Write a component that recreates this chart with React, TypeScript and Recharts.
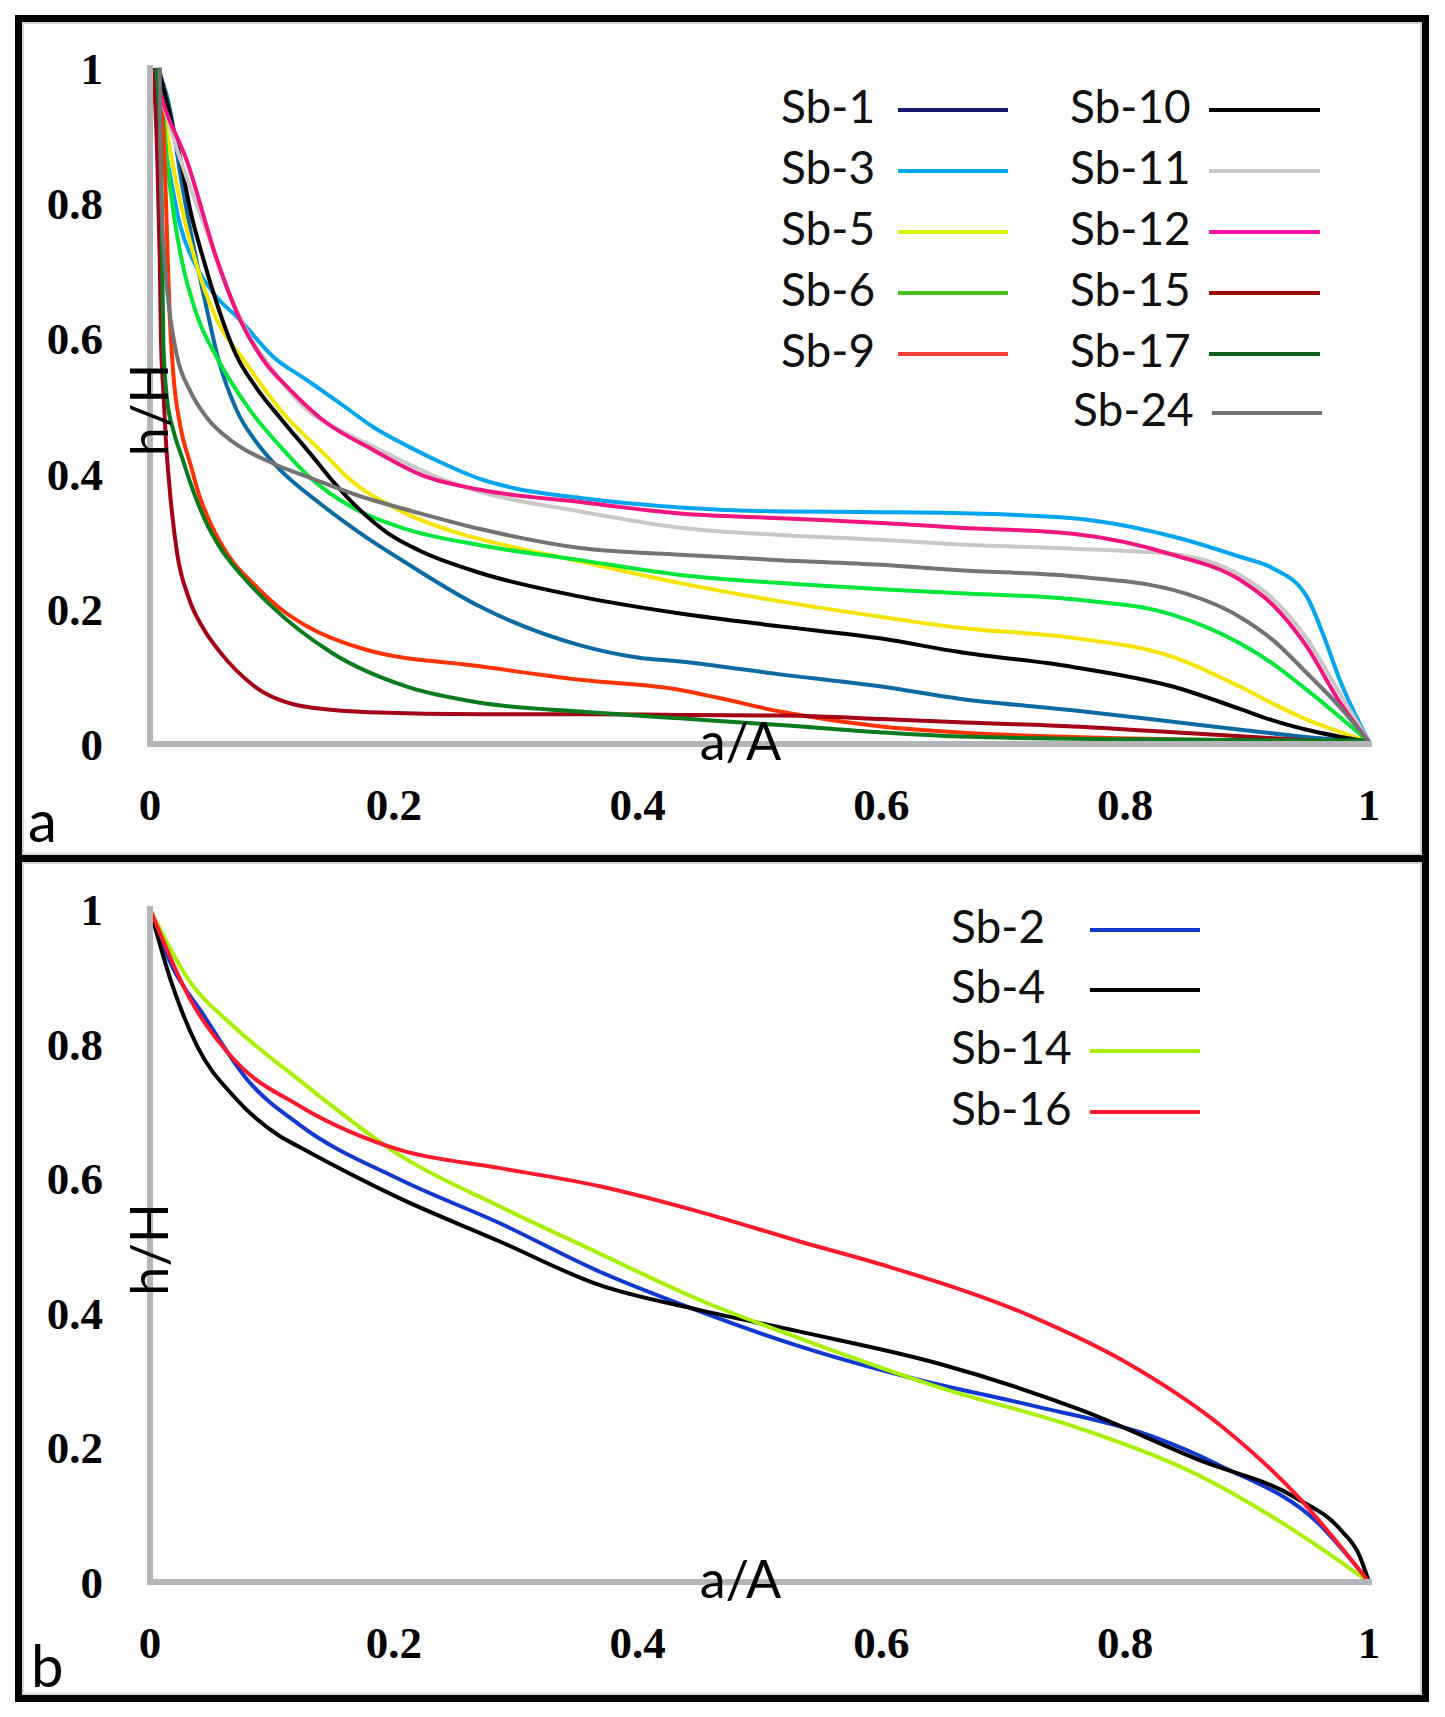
import React from "react"
import { LineChart, Line, XAxis, YAxis, Legend } from "recharts"

// [a/A, h/H] pairs
const sb1 = [[0.006, 1], [0.019, 0.913], [0.023, 0.864], [0.03, 0.79], [0.038, 0.716], [0.047, 0.64], [0.056, 0.57], [0.071, 0.494], [0.09, 0.44], [0.107, 0.405], [0.14, 0.355], [0.17, 0.315], [0.21, 0.268], [0.271, 0.203], [0.353, 0.146], [0.4, 0.128], [0.435, 0.122], [0.517, 0.103], [0.6, 0.085], [0.664, 0.067], [0.757, 0.05], [0.839, 0.033], [0.9, 0.02], [0.95, 0.01], [1, 0.003]]
const sb3 = [[0, 1], [0.006, 0.93], [0.014, 0.864], [0.025, 0.765], [0.038, 0.706], [0.052, 0.667], [0.074, 0.627], [0.101, 0.573], [0.129, 0.538], [0.156, 0.504], [0.183, 0.469], [0.211, 0.441], [0.238, 0.417], [0.271, 0.392], [0.3, 0.378], [0.353, 0.364], [0.435, 0.35], [0.517, 0.344], [0.6, 0.343], [0.648, 0.342], [0.757, 0.334], [0.839, 0.307], [0.894, 0.277], [0.921, 0.26], [0.949, 0.218], [0.963, 0.159], [0.976, 0.095], [1, 0.003]]
const sb5 = [[0.008, 1], [0.012, 0.93], [0.018, 0.864], [0.037, 0.716], [0.055, 0.627], [0.077, 0.568], [0.107, 0.494], [0.148, 0.42], [0.161, 0.396], [0.2, 0.35], [0.253, 0.312], [0.271, 0.303], [0.353, 0.27], [0.435, 0.238], [0.517, 0.211], [0.6, 0.188], [0.664, 0.172], [0.757, 0.157], [0.839, 0.129], [0.894, 0.085], [0.921, 0.06], [0.949, 0.036], [0.976, 0.018], [1, 0.003]]
const sb6 = [[0.008, 1], [0.011, 0.93], [0.014, 0.864], [0.019, 0.79], [0.026, 0.716], [0.038, 0.637], [0.056, 0.568], [0.082, 0.494], [0.112, 0.43], [0.129, 0.398], [0.17, 0.346], [0.21, 0.318], [0.271, 0.294], [0.353, 0.272], [0.435, 0.25], [0.517, 0.238], [0.6, 0.229], [0.664, 0.223], [0.757, 0.214], [0.839, 0.191], [0.894, 0.149], [0.921, 0.119], [0.949, 0.08], [0.976, 0.04], [1, 0.003]]
const sb9 = [[0.006, 1], [0.012, 0.864], [0.014, 0.75], [0.016, 0.64], [0.019, 0.55], [0.025, 0.469], [0.033, 0.415], [0.04, 0.37], [0.05, 0.325], [0.065, 0.277], [0.086, 0.235], [0.11, 0.196], [0.128, 0.175], [0.178, 0.139], [0.271, 0.115], [0.353, 0.095], [0.435, 0.08], [0.467, 0.068], [0.517, 0.048], [0.557, 0.036], [0.6, 0.026], [0.664, 0.017], [0.784, 0.009], [0.9, 0.005], [1, 0]]
const sb10 = [[0.007, 1], [0.016, 0.933], [0.025, 0.864], [0.033, 0.79], [0.044, 0.716], [0.057, 0.64], [0.07, 0.578], [0.088, 0.525], [0.107, 0.482], [0.134, 0.424], [0.147, 0.395], [0.17, 0.35], [0.195, 0.312], [0.22, 0.287], [0.271, 0.253], [0.353, 0.218], [0.435, 0.193], [0.517, 0.174], [0.6, 0.156], [0.664, 0.136], [0.757, 0.114], [0.839, 0.085], [0.894, 0.052], [0.921, 0.035], [0.949, 0.021], [1, 0.003]]
const sb11 = [[0, 1], [0.01, 0.95], [0.025, 0.864], [0.047, 0.756], [0.063, 0.676], [0.082, 0.602], [0.101, 0.553], [0.129, 0.494], [0.156, 0.464], [0.183, 0.44], [0.238, 0.393], [0.271, 0.373], [0.353, 0.344], [0.435, 0.32], [0.517, 0.309], [0.6, 0.302], [0.664, 0.295], [0.757, 0.289], [0.839, 0.281], [0.894, 0.25], [0.921, 0.215], [0.949, 0.156], [0.976, 0.075], [1, 0.003]]
const sb12 = [[0.003, 1], [0.011, 0.948], [0.03, 0.864], [0.055, 0.716], [0.074, 0.627], [0.093, 0.568], [0.115, 0.524], [0.142, 0.479], [0.183, 0.435], [0.224, 0.397], [0.271, 0.376], [0.353, 0.358], [0.435, 0.341], [0.517, 0.334], [0.6, 0.327], [0.664, 0.32], [0.757, 0.311], [0.839, 0.28], [0.894, 0.243], [0.921, 0.206], [0.949, 0.144], [0.976, 0.062], [1, 0.003]]
const sb15 = [[0.003, 1], [0.006, 0.864], [0.008, 0.716], [0.009, 0.6], [0.011, 0.52], [0.013, 0.45], [0.016, 0.38], [0.022, 0.285], [0.032, 0.215], [0.044, 0.17], [0.057, 0.137], [0.086, 0.085], [0.128, 0.055], [0.18, 0.047], [0.271, 0.044], [0.353, 0.044], [0.435, 0.043], [0.517, 0.042], [0.6, 0.037], [0.664, 0.032], [0.757, 0.026], [0.86, 0.015], [1, 0]]
const sb17 = [[0.005, 1], [0.009, 0.864], [0.01, 0.716], [0.011, 0.59], [0.014, 0.51], [0.019, 0.465], [0.027, 0.42], [0.032, 0.392], [0.045, 0.332], [0.057, 0.292], [0.075, 0.25], [0.099, 0.205], [0.149, 0.135], [0.212, 0.084], [0.271, 0.061], [0.353, 0.048], [0.435, 0.038], [0.517, 0.028], [0.6, 0.017], [0.664, 0.011], [0.8, 0.007], [1, 0.005]]
const sb24 = [[0.008, 1], [0.0085, 0.9], [0.0095, 0.8], [0.012, 0.716], [0.016, 0.64], [0.022, 0.575], [0.033, 0.522], [0.047, 0.482], [0.068, 0.447], [0.101, 0.415], [0.134, 0.392], [0.17, 0.368], [0.22, 0.342], [0.271, 0.318], [0.353, 0.29], [0.435, 0.28], [0.517, 0.272], [0.6, 0.265], [0.664, 0.257], [0.757, 0.248], [0.839, 0.228], [0.894, 0.188], [0.921, 0.154], [0.949, 0.105], [0.976, 0.055], [1, 0.003]]

const sb2 = [[0, 1], [0.017, 0.919], [0.043, 0.845], [0.08, 0.746], [0.123, 0.679], [0.205, 0.598], [0.287, 0.533], [0.369, 0.461], [0.451, 0.402], [0.533, 0.35], [0.627, 0.302], [0.724, 0.262], [0.821, 0.217], [0.88, 0.171], [0.958, 0.088], [1, 0]]
const sb4 = [[0, 1], [0.017, 0.894], [0.039, 0.795], [0.069, 0.721], [0.106, 0.663], [0.123, 0.646], [0.205, 0.57], [0.287, 0.506], [0.369, 0.441], [0.451, 0.404], [0.533, 0.372], [0.646, 0.325], [0.763, 0.256], [0.861, 0.181], [0.939, 0.126], [0.977, 0.077], [0.992, 0.04], [1, 0]]
const sb14 = [[0, 1], [0.032, 0.894], [0.069, 0.825], [0.123, 0.745], [0.205, 0.634], [0.287, 0.558], [0.369, 0.488], [0.451, 0.419], [0.533, 0.362], [0.646, 0.29], [0.763, 0.228], [0.861, 0.158], [0.939, 0.076], [1, 0]]
const sb16 = [[0, 1], [0.032, 0.869], [0.069, 0.776], [0.123, 0.707], [0.205, 0.642], [0.287, 0.615], [0.369, 0.588], [0.451, 0.55], [0.533, 0.506], [0.607, 0.468], [0.724, 0.394], [0.802, 0.325], [0.88, 0.23], [0.939, 0.132], [1, 0]]

const tickValues = [0, 0.2, 0.4, 0.6, 0.8, 1]

const topNames = ["Sb-1", "Sb-3", "Sb-5", "Sb-6", "Sb-9", "Sb-10", "Sb-11", "Sb-12", "Sb-15", "Sb-17", "Sb-24"]
const topSeries = [sb1, sb3, sb5, sb6, sb9, sb10, sb11, sb12, sb15, sb17, sb24]
const topStroke = ["#0b6aa2", "#00a4ef", "#f5e400", "#00e63b", "#ff3300", "#000000", "#cdc6c6", "#f0157f", "#a30018", "#0a7a1e", "#737373"]
const topLegend = ["#121a70", "#00a4ef", "#d6f200", "#44c41b", "#ff3d33", "#000000", "#cdc6c6", "#ff14a0", "#9b0d0d", "#0d5e1a", "#737373"]

const bottomNames = ["Sb-2", "Sb-4", "Sb-14", "Sb-16"]
const bottomSeries = [sb2, sb4, sb14, sb16]
const bottomStroke = ["#1238d0", "#000000", "#a6f000", "#ff1a2e"]

const toPts = (arr: number[][]) => arr.map(([a, h]) => ({ a, h }))

const SANS = "Lato, 'Open Sans', sans-serif"
const SERIF = "'Liberation Serif', 'Times New Roman', serif"
const AXIS_GREY = "#b4b5b8"

const tickStyle = { fill: "#000", fontSize: 45, fontWeight: 700, fontFamily: SERIF }

function YTitle(props: any) {
  const vb = props.viewBox || { x: 0, y: 0, width: 150, height: 600 }
  const x = vb.x + vb.width + 18
  const y = vb.y + vb.height / 2 + 4
  return (
    <text x={x} y={y} transform={`rotate(-90 ${x} ${y})`} textAnchor="middle"
      fontFamily={SANS} fontSize={52} fill="#000">h/H</text>
  )
}

function XTitle(props: any) {
  const vb = props.viewBox || { x: 150, y: 700, width: 1219, height: 100 }
  return (
    <text x={vb.x + vb.width / 2 - 19} y={vb.y + 16} textAnchor="middle"
      fontFamily={SANS} fontSize={52} fill="#000">a/A</text>
  )
}

type LegendSpot = { textX: number; x1: number; x2: number; y: number }

function legendRenderer(names: string[], colors: string[], spots: LegendSpot[], w: number, h: number) {
  return () => (
    <svg width={w} height={h} style={{ display: "block" }}>
      {names.map((n, i) => {
        const s = spots[i]
        return (
          <g key={n}>
            <text x={s.textX} y={s.y + 12.5} fontFamily={SANS} fontSize={46} fill="#111">{n}</text>
            <line x1={s.x1} x2={s.x2} y1={s.y} y2={s.y} stroke={colors[i]} strokeWidth={4} />
          </g>
        )
      })}
    </svg>
  )
}

const topRows = [110, 171, 232, 293, 354, 413]
const topSpots: LegendSpot[] = [
  ...topRows.slice(0, 5).map((y) => ({ textX: 781, x1: 898, x2: 1008, y })),
  ...topRows.map((y, i) => (i === 5 ? { textX: 1073, x1: 1212, x2: 1322, y } : { textX: 1070, x1: 1209, x2: 1320, y })),
]
const bottomSpots: LegendSpot[] = [74, 134, 195, 256].map((y) => ({ textX: 951, x1: 1090, x2: 1200, y }))

function Panel(props: {
  top: number; height: number; marginTop: number; xAxisHeight: number
  names: string[]; series: number[][][]; stroke: string[]; legend: () => React.ReactNode
}) {
  const { top, height, marginTop, xAxisHeight, names, series, stroke, legend } = props
  return (
    <div style={{ position: "absolute", left: 0, top, width: 1445, height }}>
      <LineChart width={1445} height={height} margin={{ top: marginTop, right: 76, bottom: 0, left: 0 }}>
        <XAxis type="number" dataKey="a" domain={[0, 1]} ticks={tickValues} interval={0}
          height={xAxisHeight} tickSize={0} tickMargin={44} tickLine={false}
          axisLine={{ stroke: AXIS_GREY, strokeWidth: 6, strokeLinecap: "square" }}
          tick={tickStyle} tickFormatter={(v: number) => String(v)}
          label={<XTitle />} />
        <YAxis type="number" dataKey="h" domain={[0, 1]} ticks={tickValues} interval={0}
          width={150} tickSize={0} tickMargin={47} tickLine={false}
          axisLine={{ stroke: AXIS_GREY, strokeWidth: 6, strokeLinecap: "square" }}
          tick={tickStyle} tickFormatter={(v: number) => String(v)}
          label={<YTitle />} />
        <Legend layout="horizontal" verticalAlign="middle" align="center" content={legend}
          wrapperStyle={{ left: 0, top: 0, width: 1445, height, pointerEvents: "none" }} />
        {series.map((s, i) => (
          <Line key={names[i]} name={names[i]} data={toPts(s)} dataKey="h" type="monotone"
            stroke={stroke[i]} strokeWidth={4} dot={false} activeDot={false}
            isAnimationActive={false} />
        ))}
      </LineChart>
    </div>
  )
}

const frame = (top: number): React.CSSProperties => ({
  position: "absolute", left: 15, top, width: 1414, height: 847, boxSizing: "border-box",
  border: "7px solid #000", boxShadow: "inset 0 0 0 2px #d6d6d6", pointerEvents: "none",
})

export default function App() {
  return (
    <div style={{ position: "absolute", left: 0, top: 0, width: 1445, height: 1717, background: "#fff", overflow: "hidden" }}>
      <div style={frame(15)} />
      <div style={frame(855)} />
      <Panel top={0} height={856} marginTop={68} xAxisHeight={112}
        names={topNames} series={topSeries} stroke={topStroke}
        legend={legendRenderer(topNames, topLegend, topSpots, 1445, 856)} />
      <Panel top={856} height={846} marginTop={53} xAxisHeight={120}
        names={bottomNames} series={bottomSeries} stroke={bottomStroke}
        legend={legendRenderer(bottomNames, bottomStroke, bottomSpots, 1445, 846)} />
      <svg width={1445} height={1717} style={{ position: "absolute", left: 0, top: 0, pointerEvents: "none" }}>
        <text x={28} y={842} fontFamily={SANS} fontSize={58} fill="#000">a</text>
        <text x={31} y={1687} fontFamily={SANS} fontSize={58} fill="#000">b</text>
      </svg>
    </div>
  )
}
